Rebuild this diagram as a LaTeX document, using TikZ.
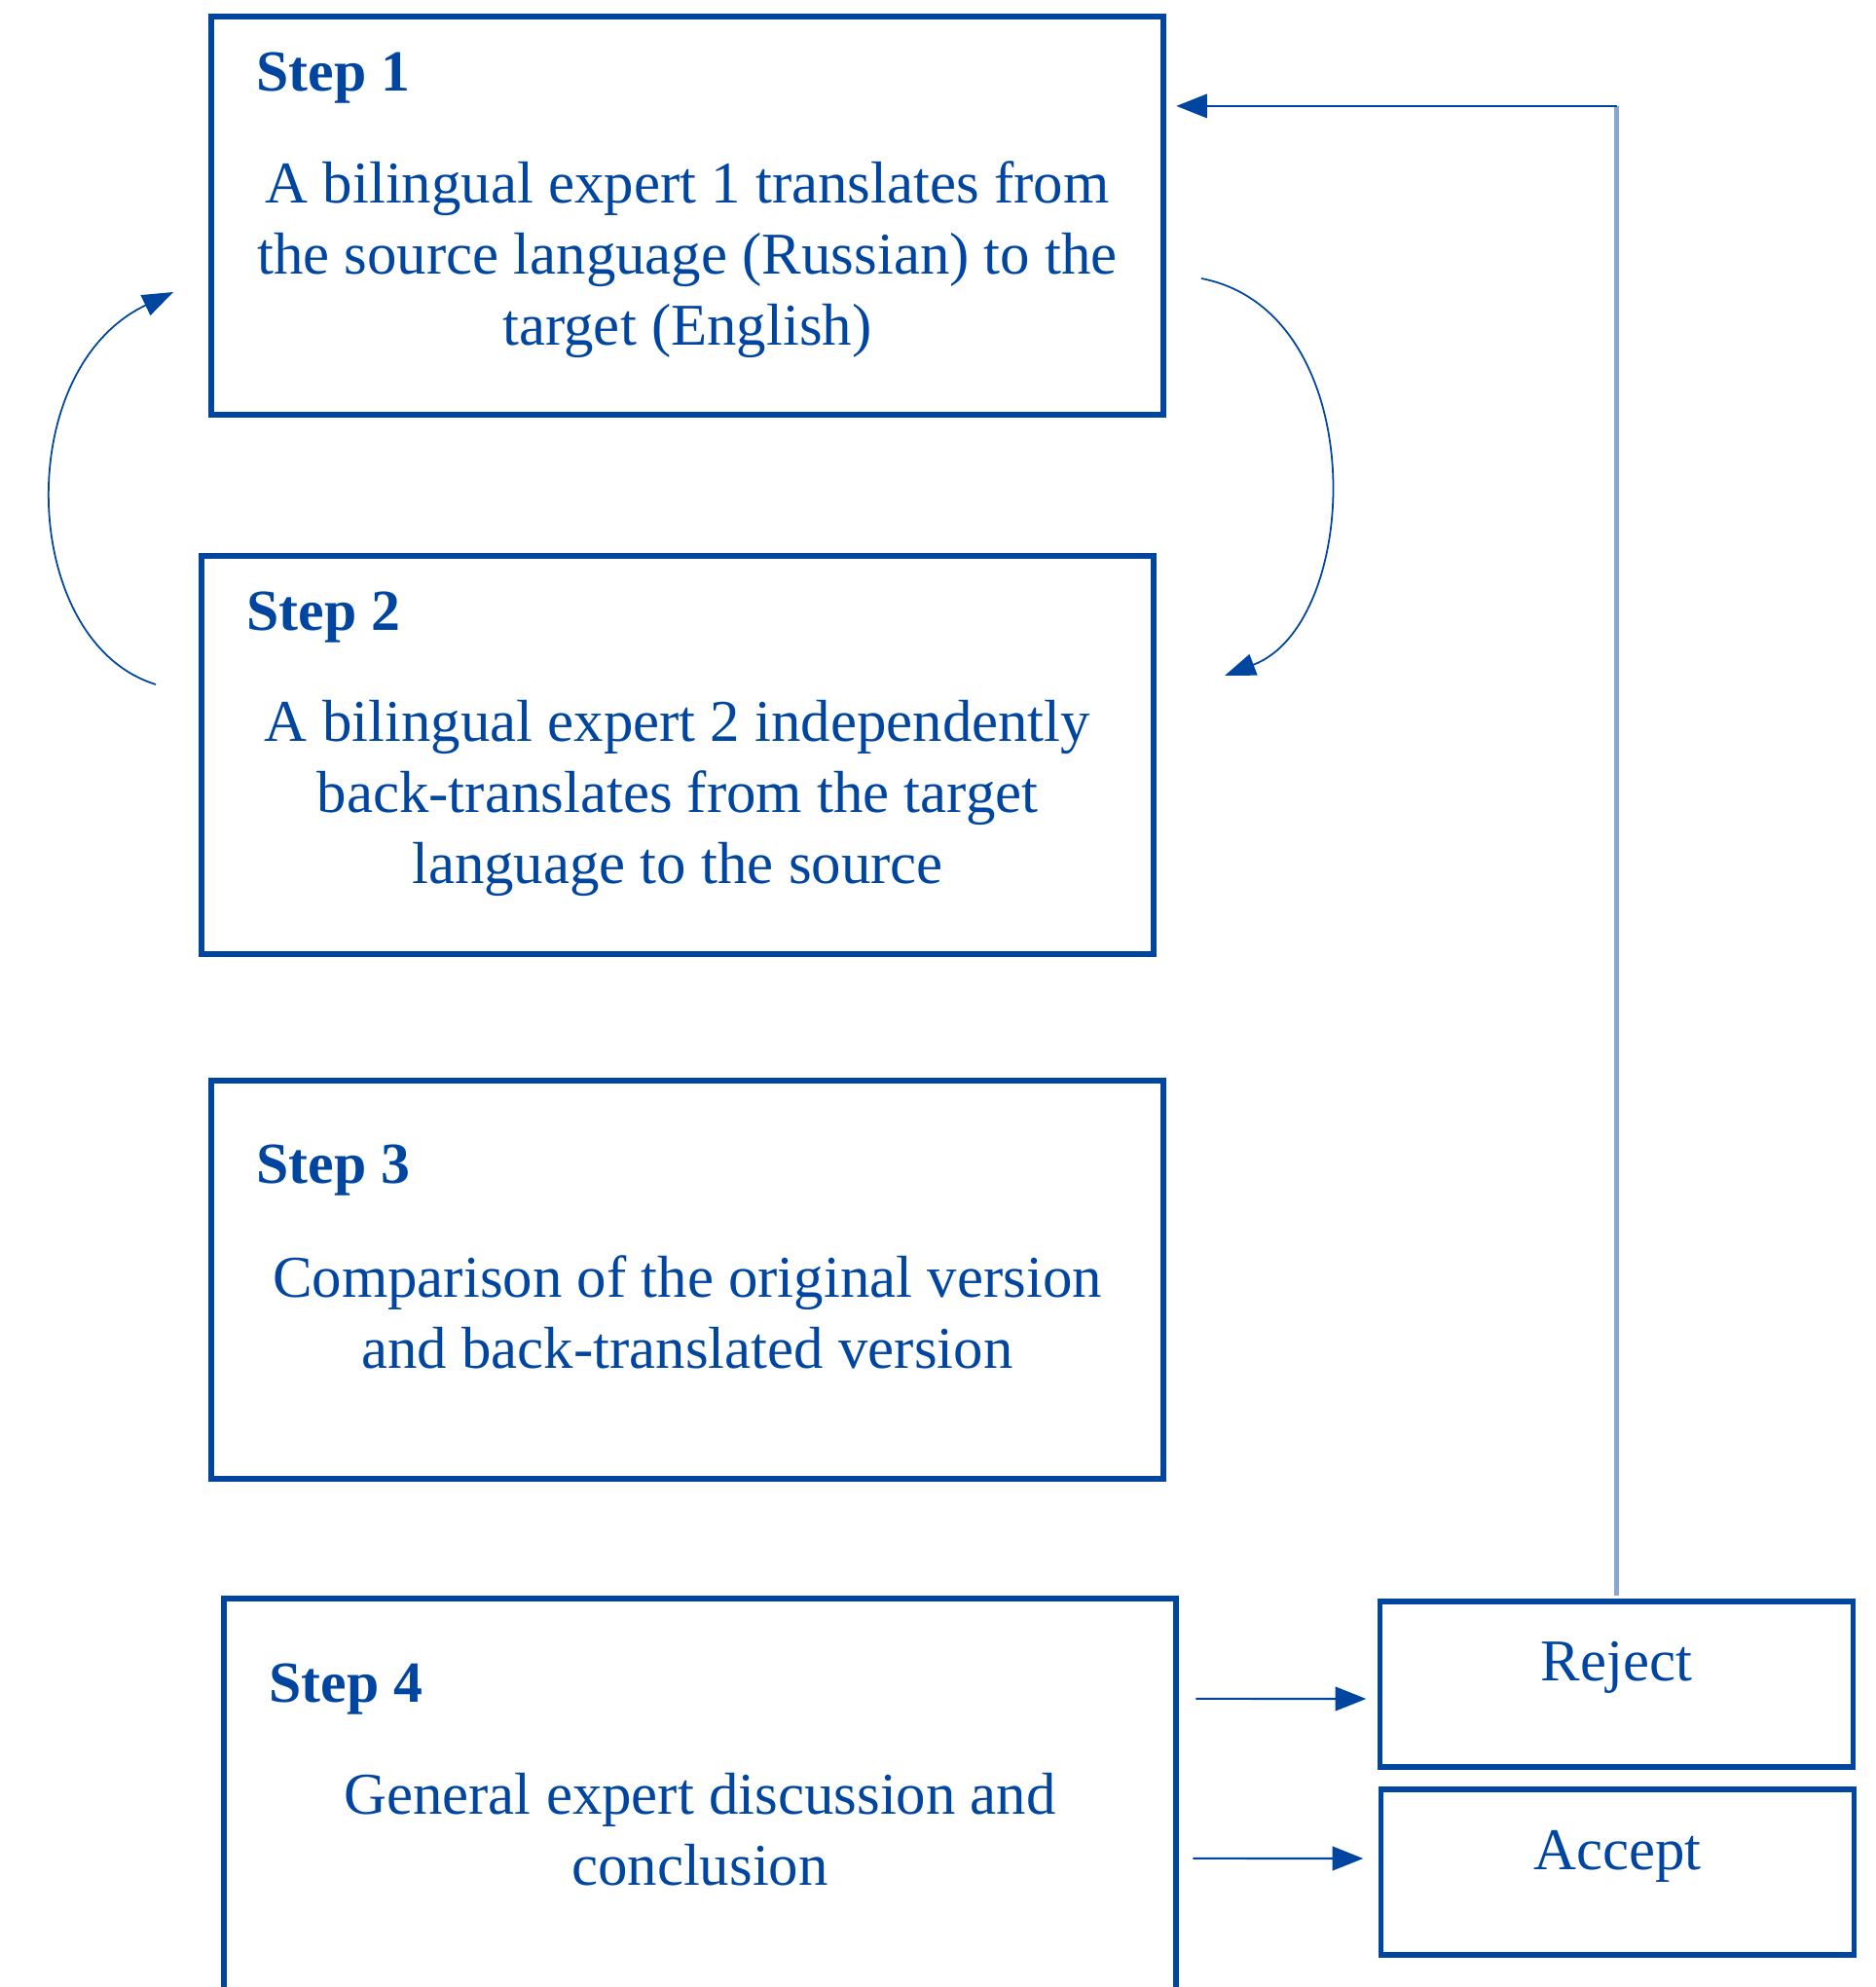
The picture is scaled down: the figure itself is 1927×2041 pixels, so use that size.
\documentclass[tikz,border=0pt]{standalone}
\usepackage{fontspec}
\setmainfont{Liberation Serif}
\usetikzlibrary{arrows.meta,calc,positioning}
\definecolor{stepblue}{RGB}{0,70,160}
\definecolor{lineblue}{RGB}{138,166,210}
\tikzset{
    block/.style = {draw=stepblue, rectangle, line width=1.6pt, outer sep=0pt,
        minimum width=9.78cm, minimum height=4.09cm, inner sep=0pt},
    choice/.style = {draw=stepblue, rectangle, line width=1.6pt, outer sep=0pt,
        minimum width=4.86cm, minimum height=1.7cm, inner sep=0pt},
    steptitle/.style = {text=stepblue, font=\fontsize{17}{20.8}\selectfont\bfseries,
        anchor=base west, inner sep=0pt},
    steptext/.style = {text=stepblue, font=\fontsize{17.3}{20.8}\selectfont,
        align=center, anchor=base, inner sep=0pt},
    arrow/.style = {draw=stepblue, line width=0.6pt, -{Triangle[length=9pt,width=7pt]}},
    curvearrow/.style = {draw=stepblue, line width=0.5pt, -{Triangle[length=9pt,width=6.5pt]}},
    fbline/.style = {draw=lineblue, line width=1.3pt}
}

\begin{document}
\begin{tikzpicture}[x=0.01cm, y=-0.01cm]
    \useasboundingbox (0,0) rectangle (1927,2041);
    \clip (0,0) rectangle (1927,2041);
        % step boxes
        \node [block] (s1) at (706,221.5) {};
        \node [block] (s2) at (696,775.5) {};
        \node [block] (s3) at (706,1314.5) {};
        \node [block] (s4) at (719,1846.5) {};
        \foreach \a/\dy in {1/77,2/77,3/106,4/107}{
            \node [steptitle] at ($(s\a.north west)+(46,\dy)$) {Step \a};
        }
        \node [steptext] (t1) at ($(s1.north)+(0,338)$) {A bilingual expert 1 translates from\\the source language (Russian) to the\\target (English)};
        \node [steptext] (t2) at ($(s2.north)+(0,337)$) {A bilingual expert 2 independently\\back-translates from the target\\language to the source};
        \node [steptext] (t3) at ($(s3.north)+(0,296)$) {Comparison of the original version\\and back-translated version};
        \node [steptext] (t4) at ($(s4.north)+(0,295)$) {General expert discussion and\\conclusion};
        % decisions
        \node [choice] (reject) at (1660.5,1730) {};
        \node [choice] (accept) at (1661.5,1923) {};
        \node [steptext] at ($(reject.north)+(0,82)$) {Reject};
        \node [steptext] at ($(accept.north)+(0,83)$) {Accept};
    \draw [arrow] ($(s4.north east)+(20,103)$) -- ($(reject.west)+(-14,15)$);
    \draw [arrow] ($(s4.north east)+(17,267)$) -- ($(accept.west)+(-18,-14)$);
    % back to step 1
    \coordinate (fbk) at (reject.north |- s1.north);
    \coordinate (fbk) at ($(fbk)+(0,92)$);
    \draw [fbline, shorten <=0.06cm] (reject.north) -- (fbk);
    \draw [arrow, shorten >=0.13cm] (fbk) -- (fbk -| s1.east);
    % translation loop
    \coordinate (r1) at (1234,286);
    \coordinate (r2) at (1258,694);
    \draw [curvearrow] (r1) .. controls (1410,320) and (1400,640) .. (r2);
    \coordinate (l1) at (160,703);
    \coordinate (l2) at (178,300);
    \draw [curvearrow] (l1) .. controls (20,660) and (10,380) .. (l2);
\end{tikzpicture}
\end{document}
